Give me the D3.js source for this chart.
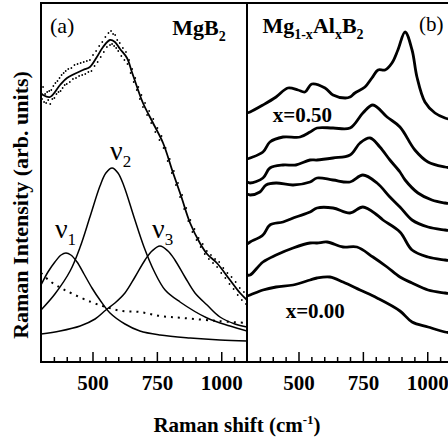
<!DOCTYPE html>
<html>
<head>
<meta charset="utf-8">
<script src="https://cdn.jsdelivr.net/npm/d3@7"></script>
<style>
body { margin: 0; background: #fff; }
svg text { font-family: "Liberation Serif", "Times New Roman", serif; fill: #000; }
</style>
</head>
<body>
<div id="chart"></div>
<script>
// Raman spectra of MgB2 (a) and Mg(1-x)Al(x)B2 (b)
// x in cm^-1, y in arbitrary units

// Tick positions (both panels share the same shift range)
let majorTicks = [500, 750, 1000];
let minorTicks = [350, 400, 450, 550, 600, 650, 700, 800, 850, 900, 950, 1050];

// Panel (a): measured MgB2 points
let mgb2Points = [
    [300,274],[304,263],[308,275],[312,260],[316,268],[320,259],[324,270],[328,262],[332,271],[336,258],
    [340,272],[344,263],[348,276],[352,264],[356,279],[360,268],[364,281],[368,270],[372,284],[376,271],
    [380,287],[384,274],[388,289],[392,277],[396,291],[400,278],[406,293],[412,280],[418,294],[424,283],
    [430,297],[436,284],[442,298],[448,286],[454,299],[460,287],[466,300],[472,288],[478,301],[484,290],
    [490,302],[496,291],[502,307],[508,296],[514,311],[520,300],[526,316],[532,305],[538,320],[544,310],
    [550,325],[556,315],[562,329],[568,317],[572,331],[576,318],[580,328],[584,316],[588,327],[592,314],
    [596,322],[600,311],[606,319],[612,306],[618,314],[624,302],[630,310],[636,298],[642,302],[648,289],
    [654,293],[660,280],[666,284],[672,272],[678,275],[684,263],[690,267],[696,255],[704,259],[712,247],
    [720,251],[728,239],[736,243],[744,230],[752,234],[760,222],[768,226],[776,214],[784,214],[792,201],
    [800,203],[808,189],[816,191],[824,177],[832,179],[840,165],[848,167],[856,153],[864,154],[872,141],
    [880,142],[888,130],[896,133],[904,122],[912,124],[920,115],[928,118],[936,108],[944,111],[952,103],
    [960,107],[968,99],[976,103],[984,95],[992,100],[1000,89],[1008,94],[1016,84],[1024,89],[1032,78],
    [1040,85],[1048,73],[1056,80],[1064,67],[1072,74],[1080,62],[1088,70],[1096,58]
];

// Panel (a): total fit
let mgb2Fit = [
    [300,269],[308,267],[335,265],[374,277],[401,284],[463,292],[490,295],[517,305],[541,315],[568,322],
    [587,320],[607,313],[634,304],[653,290],[673,275],[696,259],[735,239],[774,219],[813,189],[844,166],
    [879,139],[917,119],[945,108],[983,99],[1034,82],[1073,69],[1100,62]
];

// Panel (a): fitted components
let nu1 = [
    [300,77],[327,90],[354,100],[378,107],[397,109],[416,107],[440,100],[467,88],[498,74],[529,62],
    [568,49],[626,38],[684,31],[762,27],[879,24],[995,22],[1100,21]
];
let nu2 = [
    [300,52],[354,68],[413,91],[452,115],[490,145],[529,176],[552,189],[576,194],[599,189],[622,176],
    [661,145],[700,115],[739,91],[782,72],[840,60],[945,44],[1034,36],[1100,31]
];
let nu3 = [
    [300,28],[374,31],[452,36],[510,43],[552,52],[587,59],[626,69],[665,85],[704,102],[731,111],
    [762,116],[793,111],[820,102],[859,85],[898,69],[945,57],[995,45],[1053,38],[1100,35]
];
let background = [
    [300,89],[339,80],[378,74],[416,69],[494,60],[552,55],[614,51],[684,50],[762,46],[851,44],
    [987,41],[1100,39]
];

// Panel (b): spectra from x=0.00 (bottom) upwards
let specX000 = [
    [300,66],[312,67],[362,72],[413,75],[479,77],[545,82],[572,84],[622,85],[673,80],[739,72],
    [805,64],[894,51],[941,40],[1003,35],[1069,30],[1100,29]
];
let specX010 = [
    [300,87],[312,87],[362,100],[413,107],[479,114],[545,119],[572,119],[611,120],[673,115],[727,115],
    [789,105],[844,95],[894,85],[941,79],[1003,72],[1069,69],[1100,68]
];
let specX020 = [
    [300,118],[312,120],[362,127],[389,137],[440,140],[490,145],[545,150],[572,154],[634,154],[700,149],
    [750,155],[805,147],[828,142],[894,130],[941,112],[1003,105],[1069,102],[1100,101]
];
let specX030 = [
    [300,168],[312,167],[350,170],[374,177],[413,179],[479,177],[545,180],[572,184],[634,182],[700,180],
    [750,187],[805,179],[855,165],[894,155],[941,142],[1003,135],[1069,132],[1100,131]
];
let specX040 = [
    [300,180],[312,179],[362,184],[389,194],[440,197],[490,197],[545,202],[572,202],[634,204],[700,207],
    [739,219],[778,224],[816,215],[855,202],[894,190],[914,182],[964,169],[1018,162],[1069,159],[1100,158]
];
let specX050 = [
    [300,203],[312,204],[362,210],[389,220],[440,225],[506,225],[545,230],[572,234],[634,234],[700,234],
    [750,249],[789,257],[844,245],[894,235],[952,212],[1003,200],[1069,195],[1100,194]
];
let specTop = [
    [300,249],[312,250],[362,257],[413,265],[459,274],[498,272],[525,270],[552,278],[603,274],[634,267],
    [681,264],[700,265],[719,269],[758,275],[785,284],[809,292],[836,292],[863,299],[886,312],[914,330],
    [941,312],[960,285],[991,260],[1030,249],[1069,244],[1100,242]
];

// Frame layout
let frame = {left: 41, top: 3, bottom: 362, panel: 206};

let xA = d3.scaleLinear()
    .domain([300, 1100])
    .range([frame.left, frame.left + frame.panel]);

let xB = d3.scaleLinear()
    .domain([300, 1100])
    .range([frame.left + frame.panel, frame.left + 2 * frame.panel]);

let y = d3.scaleLinear()
    .domain([0, 359])
    .range([frame.bottom, frame.top]);

let svg = d3.select("#chart")
    .append("svg")
    .attr("width", 448)
    .attr("height", 445);

// Clip each panel to its box
let defs = svg.append("defs");
[["clipA", xA], ["clipB", xB]].forEach(([id, x]) => {
    defs.append("clipPath").attr("id", id)
        .append("rect")
        .attr("x", x.range()[0])
        .attr("y", frame.top)
        .attr("width", frame.panel)
        .attr("height", frame.bottom - frame.top);
});

let lineA = d3.line()
    .x(d => xA(d[0]))
    .y(d => y(d[1]))
    .curve(d3.curveCatmullRom.alpha(0.5));

let lineB = d3.line()
    .x(d => xB(d[0]))
    .y(d => y(d[1]))
    .curve(d3.curveCatmullRom.alpha(0.5));

// Panel (a)
let gA = svg.append("g").attr("clip-path", "url(#clipA)");

[nu1, nu2, nu3].forEach(c => {
    gA.append("path")
        .datum(c)
        .attr("fill", "none")
        .attr("stroke", "#000")
        .attr("stroke-width", 1.5)
        .attr("d", lineA);
});

gA.append("path")
    .datum(background)
    .attr("fill", "none")
    .attr("stroke", "#000")
    .attr("stroke-width", 2)
    .attr("stroke-dasharray", "2,5")
    .attr("d", lineA);

gA.selectAll("circle.pt")
    .data(mgb2Points)
    .enter().append("circle")
    .attr("class", "pt")
    .attr("cx", d => xA(d[0]))
    .attr("cy", d => y(d[1]))
    .attr("r", 0.9)
    .attr("fill", "#000");

gA.append("path")
    .datum(mgb2Fit)
    .attr("fill", "none")
    .attr("stroke", "#000")
    .attr("stroke-width", 1.8)
    .attr("d", lineA);

// Panel (b)
let gB = svg.append("g").attr("clip-path", "url(#clipB)");

[specX000, specX010, specX020, specX030, specX040, specX050, specTop].forEach(s => {
    gB.append("path")
        .datum(s)
        .attr("fill", "none")
        .attr("stroke", "#000")
        .attr("stroke-width", 2.8)
        .attr("stroke-linejoin", "round")
        .attr("d", lineB);
});

// Frame and separator
svg.append("rect")
    .attr("x", frame.left)
    .attr("y", frame.top)
    .attr("width", 2 * frame.panel)
    .attr("height", frame.bottom - frame.top)
    .attr("fill", "none")
    .attr("stroke", "#000")
    .attr("stroke-width", 2);

svg.append("line")
    .attr("x1", xA.range()[1]).attr("x2", xA.range()[1])
    .attr("y1", frame.top).attr("y2", frame.bottom)
    .attr("stroke", "#000")
    .attr("stroke-width", 2);

// Axes: inward ticks, labels below
[xA, xB].forEach(x => {
    let g = svg.append("g").attr("transform", `translate(0,${frame.bottom})`);
    g.append("g")
        .call(d3.axisTop(x).tickValues(minorTicks).tickSize(5).tickFormat(""))
        .call(a => a.select(".domain").remove())
        .selectAll("line").attr("stroke-width", 1.5);
    g.append("g")
        .call(d3.axisTop(x).tickValues(majorTicks).tickSize(10).tickFormat(""))
        .call(a => a.select(".domain").remove())
        .selectAll("line").attr("stroke-width", 1.5);
    g.append("g")
        .call(d3.axisBottom(x).tickValues(majorTicks).tickSize(0).tickPadding(13)
            .tickFormat(d3.format("d")))
        .call(a => a.select(".domain").remove())
        .selectAll("text")
        .attr("font-family", "Liberation Serif")
        .attr("font-size", 21)
        .attr("font-weight", "bold");
});

// Axis titles
svg.append("text")
    .attr("x", 237)
    .attr("y", 432)
    .attr("text-anchor", "middle")
    .attr("font-size", 21)
    .attr("font-weight", "bold")
    .call(t => {
        t.append("tspan").text("Raman shift (cm");
        t.append("tspan").attr("font-size", 13).attr("dy", -8).text("-1");
        t.append("tspan").attr("dy", 8).text(")");
    });

svg.append("text")
    .attr("transform", "translate(28,205) rotate(-90)")
    .attr("text-anchor", "middle")
    .attr("font-size", 22)
    .attr("font-weight", "bold")
    .text("Raman Intensity (arb. units)");

// Panel labels
svg.append("text")
    .attr("x", xA(335)).attr("y", 33)
    .attr("font-size", 22)
    .text("(a)");

svg.append("text")
    .attr("x", xA(810)).attr("y", 35)
    .attr("font-size", 22)
    .attr("font-weight", "bold")
    .call(t => {
        t.append("tspan").text("MgB");
        t.append("tspan").attr("font-size", 14).attr("dy", 6).text("2");
    });

svg.append("text")
    .attr("x", xB(360)).attr("y", 33)
    .attr("font-size", 22)
    .attr("font-weight", "bold")
    .call(t => {
        t.append("tspan").text("Mg");
        t.append("tspan").attr("font-size", 14).attr("dy", 6).text("1-x");
        t.append("tspan").attr("font-size", 22).attr("dy", -6).text("Al");
        t.append("tspan").attr("font-size", 14).attr("dy", 6).text("x");
        t.append("tspan").attr("font-size", 22).attr("dy", -6).text("B");
        t.append("tspan").attr("font-size", 14).attr("dy", 6).text("2");
    });

svg.append("text")
    .attr("x", xB(968)).attr("y", 31)
    .attr("font-size", 21)
    .text("(b)");

// Component labels
[[nu1, "1", 354, 124], [nu2, "2", 568, 202], [nu3, "3", 731, 124]].forEach(([c, k, cx, cy]) => {
    svg.append("text")
        .attr("x", xA(cx)).attr("y", y(cy))
        .attr("font-size", 28)
        .call(t => {
            t.append("tspan").text("\u03bd");
            t.append("tspan").attr("font-size", 17).attr("dy", 7).text(k);
        });
});

// Concentration labels
svg.append("text")
    .attr("x", xB(400)).attr("y", y(240))
    .attr("font-size", 21)
    .attr("font-weight", "bold")
    .text("x=0.50");

svg.append("text")
    .attr("x", xB(450)).attr("y", y(44))
    .attr("font-size", 21)
    .attr("font-weight", "bold")
    .text("x=0.00");
</script>
</body>
</html>
